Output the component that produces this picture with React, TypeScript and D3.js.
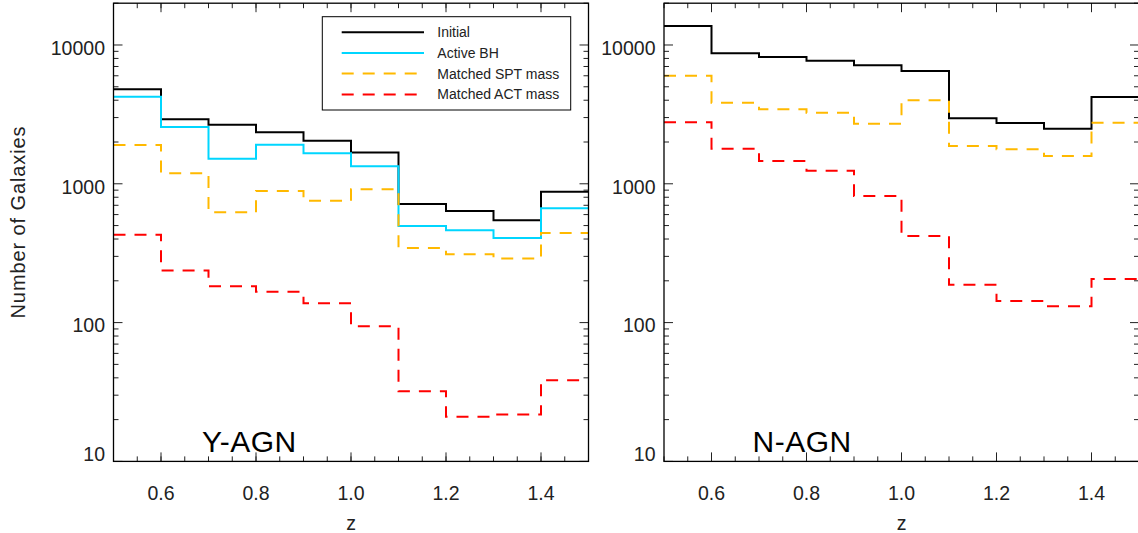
import React from 'react';
import * as d3 from 'd3';

// Redshift bins (lower edges), each 0.1 wide
const binLow = [0.5, 0.6, 0.7, 0.8, 0.9, 1.0, 1.1, 1.2, 1.3, 1.4];
const binWidth = 0.1;

// Y-AGN sample counts per bin
const yInitial = [4800, 2915, 2666, 2350, 2045, 1681, 715, 637, 546, 877];
const yActiveBH = [4242, 2566, 1517, 1912, 1659, 1337, 497, 462, 407, 666];
const ySPT = [1903, 1190, 623, 888, 755, 913, 345, 311, 289, 442];
const yACT = [430, 237, 183, 167, 138, 94, 32, 21, 21.8, 38.4];

// N-AGN sample counts per bin
const nInitial = [13700, 8710, 8195, 7707, 7142, 6497, 2965, 2742, 2494, 4221];
const nSPT = [6009, 3840, 3441, 3253, 2710, 3996, 1872, 1773, 1586, 2756];
const nACT = [2773, 1790, 1460, 1243, 817, 421, 187, 143, 131, 206];

const legendLabels = ['Initial', 'Active BH', 'Matched SPT mass', 'Matched ACT mass'];
const xTickValues = [0.6, 0.8, 1.0, 1.2, 1.4];
const yTickValues = [10, 100, 1000, 10000];

const FONT = '"Liberation Sans", Arial, Helvetica, sans-serif';

type Style = { color: string; dash?: string };
const styles: Style[] = [
  { color: '#000000' },
  { color: '#00d6ff' },
  { color: '#ffb900', dash: '12,9' },
  { color: '#ff0000', dash: '12,9' },
];

const W = 475;
const TOP = 3.2;
const BOTTOM = 461.4;

type PanelProps = {
  left: number;
  id: string;
  label: string;
  series: { values: number[]; style: Style }[];
  legend?: boolean;
};

function Panel({ left, id, label, series, legend }: PanelProps) {
  const x = d3.scaleLinear().domain([0.5, 1.5]).range([left, left + W]);
  const y = d3.scaleLog().domain([10, 20000]).range([BOTTOM, TOP]);
  const line = d3
    .line<[number, number]>()
    .x((d) => x(d[0]))
    .y((d) => y(d[1]))
    .curve(d3.curveStepAfter);

  const xMinor = d3.range(0, 21).map((i) => 0.5 + i * 0.05);
  const yMinor: number[] = [];
  yTickValues.forEach((dec) => {
    for (let k = 2; k <= 9; k++) if (k * dec <= 20000) yMinor.push(k * dec);
  });

  const tickColor = '#222';
  const right = left + W;

  return (
    <g>
      <defs>
        <clipPath id={id}>
          <rect x={left} y={TOP} width={W} height={BOTTOM - TOP} />
        </clipPath>
      </defs>
      <g clipPath={`url(#${id})`}>
        {series.map((s, i) => {
          const pts: [number, number][] = binLow.map((z, j) => [z, s.values[j]]);
          pts.push([binLow[binLow.length - 1] + binWidth, s.values[s.values.length - 1]]);
          return (
            <path
              key={i}
              d={line(pts) || ''}
              fill="none"
              stroke={s.style.color}
              strokeWidth={2}
              strokeDasharray={s.style.dash}
            />
          );
        })}
      </g>
      {/* x ticks, bottom and top */}
      {xMinor.map((v, i) => (
        <g key={'xm' + i} stroke={tickColor} strokeWidth={1}>
          <line x1={x(v)} x2={x(v)} y1={BOTTOM} y2={BOTTOM - 5} />
          <line x1={x(v)} x2={x(v)} y1={TOP} y2={TOP + 5} />
        </g>
      ))}
      {xTickValues.map((v, i) => (
        <g key={'xM' + i} stroke={tickColor} strokeWidth={1}>
          <line x1={x(v)} x2={x(v)} y1={BOTTOM} y2={BOTTOM - 9} />
          <line x1={x(v)} x2={x(v)} y1={TOP} y2={TOP + 9} />
        </g>
      ))}
      {/* y ticks, left and right */}
      {yMinor.map((v, i) => (
        <g key={'ym' + i} stroke={tickColor} strokeWidth={1}>
          <line x1={left} x2={left + 5} y1={y(v)} y2={y(v)} />
          <line x1={right} x2={right - 5} y1={y(v)} y2={y(v)} />
        </g>
      ))}
      {yTickValues.map((v, i) => (
        <g key={'yM' + i} stroke={tickColor} strokeWidth={1}>
          <line x1={left} x2={left + 9} y1={y(v)} y2={y(v)} />
          <line x1={right} x2={right - 9} y1={y(v)} y2={y(v)} />
        </g>
      ))}
      <rect x={left} y={TOP} width={W} height={BOTTOM - TOP} fill="none" stroke="#000" strokeWidth={1.3} />
      {/* tick labels */}
      {yTickValues.map((v, i) => (
        <text
          key={'yl' + i}
          x={left - 8.5}
          y={Math.min(y(v) + 3, BOTTOM - 7.5)}
          dy="0.35em"
          textAnchor="end"
          fontSize={19.5}
          fontFamily={FONT}
          fill="#222"
        >
          {v}
        </text>
      ))}
      {xTickValues.map((v, i) => (
        <text
          key={'xl' + i}
          x={x(v)}
          y={500}
          textAnchor="middle"
          fontSize={19.5}
          fontFamily={FONT}
          fill="#222"
        >
          {d3.format('.1f')(v)}
        </text>
      ))}
      <text x={left + W / 2} y={530} textAnchor="middle" fontSize={19.5} fontFamily={FONT} fill="#222">
        z
      </text>
      <text x={left + 88.5} y={452} fontSize={30} fontFamily={FONT} fill="#000" letterSpacing={0.5}>
        {label}
      </text>
      {legend && (
        <g>
          <rect x={322.3} y={16.7} width={248.4} height={93.3} fill="#fff" stroke="#000" strokeWidth={1} />
          {legendLabels.map((t, i) => {
            const ly = [32.3, 52.9, 73.6, 94.5][i];
            return (
              <g key={'lg' + i}>
                <line
                  x1={341.7}
                  x2={424}
                  y1={ly}
                  y2={ly}
                  stroke={styles[i].color}
                  strokeWidth={2}
                  strokeDasharray={styles[i].dash}
                />
                <text x={437.3} y={ly} dy="0.35em" fontSize={14} fontFamily={FONT} fill="#222">
                  {t}
                </text>
              </g>
            );
          })}
        </g>
      )}
    </g>
  );
}

export default function App() {
  return (
    <svg
      width={1138}
      height={533}
      style={{ position: 'absolute', left: 0, top: 0, background: '#fff' }}
    >
      <rect width={1138} height={533} fill="#fff" />
      <text
        transform="translate(18,222) rotate(-90)"
        textAnchor="middle"
        dy="0.35em"
        fontSize={20}
        letterSpacing={0.9}
        fontFamily={FONT}
        fill="#222"
      >
        Number of Galaxies
      </text>
      <Panel
        left={113.5}
        id="clip-yagn"
        label="Y-AGN"
        legend
        series={[
          { values: yInitial, style: styles[0] },
          { values: yActiveBH, style: styles[1] },
          { values: ySPT, style: styles[2] },
          { values: yACT, style: styles[3] },
        ]}
      />
      <Panel
        left={664}
        id="clip-nagn"
        label="N-AGN"
        series={[
          { values: nInitial, style: styles[0] },
          { values: nSPT, style: styles[2] },
          { values: nACT, style: styles[3] },
        ]}
      />
    </svg>
  );
}
